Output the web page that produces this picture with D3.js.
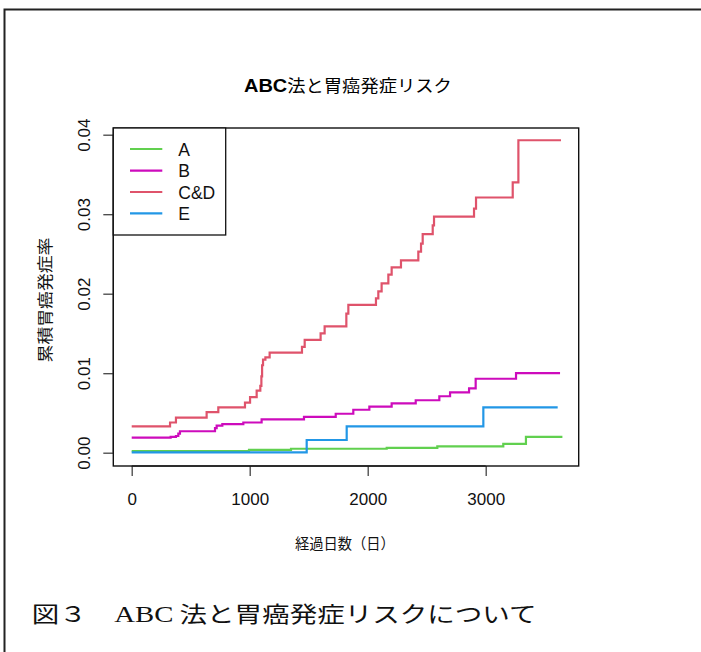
<!DOCTYPE html>
<html>
<head>
<meta charset="utf-8">
<script src="https://cdn.jsdelivr.net/npm/d3@7"></script>
<style>
  html, body { margin: 0; padding: 0; background: #fff; }
  svg { display: block; }
</style>
</head>
<body>
<script>
// ---------- data (step points: [day, cumulative incidence]) ----------
const seriesNames = ["A", "B", "C&D", "E"];
const seriesColors = ["#61D04F", "#CD0BBC", "#DF536B", "#2297E6"];

const stepsA = [[0,0.0002],[994,0.00035],[1350,0.0005],[2161,0.0006],[2590,0.0008],[3149,0.0011],[3341,0.0020],[3650,0.0020]];
const stepsB = [[0,0.0019],[330,0.0020],[375,0.0021],[395,0.0024],[409,0.0027],[706,0.0031],[720,0.0034],[768,0.0036],[946,0.0038],[1101,0.0042],[1460,0.0045],[1729,0.0049],[1878,0.0054],[2014,0.0058],[2203,0.0062],[2407,0.0066],[2607,0.0071],[2698,0.0076],[2859,0.0081],[2915,0.0093],[3257,0.0100],[3630,0.0100]];
const stepsCD = [[0,0.0033],[325,0.0038],[375,0.0044],[635,0.0051],[734,0.0057],[960,0.0063],[1003,0.0070],[1059,0.0078],[1090,0.0084],[1099,0.0096],[1105,0.0110],[1113,0.0117],[1133,0.0120],[1169,0.0126],[1443,0.0133],[1466,0.0142],[1601,0.0150],[1635,0.0159],[1819,0.0175],[1836,0.0186],[2070,0.0194],[2090,0.0203],[2118,0.0213],[2175,0.0224],[2203,0.0233],[2282,0.0242],[2429,0.0253],[2452,0.0263],[2466,0.0275],[2551,0.0286],[2562,0.0297],[2901,0.0307],[2918,0.0321],[3229,0.0340],[3277,0.0393],[3638,0.0393]];
const stepsE = [[0,0.00005],[1483,0.0016],[1822,0.0033],[2980,0.0057],[3610,0.0057]];

const xTicks = [0, 1000, 2000, 3000];
const yTicks = [0, 0.01, 0.02, 0.03, 0.04];

const chartTitle = "ABC法と胃癌発症リスク";
const xTitle = "経過日数（日）";
const yTitle = "累積胃癌発症率";
const caption = ["図３　", "ABC", " 法と胃癌発症リスクについて"];

// ---------- layout ----------
const W = 701, H = 652;
const box = {l: 113.3, r: 578.7, t: 128, b: 466};

const svg = d3.select("body").append("svg").attr("width", W).attr("height", H);
svg.append("rect").attr("width", W).attr("height", H).attr("fill", "#fff");

// outer frame (left & top visible, continues past right/bottom)
svg.append("path").attr("d", `M4.5,${H+5} L4.5,9.5 L${W+5},9.5`)
  .attr("fill", "none").attr("stroke", "#222").attr("stroke-width", 2);

const x = d3.scaleLinear().domain([0, 3000]).range([131.7, 485.7]);
const y = d3.scaleLinear().domain([0, 0.04]).range([452.7, 134.7]);

const sans = "'Liberation Sans', Arial, sans-serif";
const cjk = "'Noto Sans CJK JP', sans-serif";

function fit(sel, width) {
  const w = sel.node().getComputedTextLength();
  return width / w;
}

// ---------- axes ----------
const xAxis = svg.append("g").attr("transform", `translate(0,${box.b})`)
  .call(d3.axisBottom(x).tickValues(xTicks).tickSize(10).tickPadding(17).tickFormat(d3.format("d")));
xAxis.select(".domain").attr("stroke", "#444").attr("stroke-width", 1.3).attr("d", `M${x(0)},0H${x(3000)}`);
xAxis.selectAll(".tick line").attr("stroke", "#444").attr("stroke-width", 1.3);
xAxis.selectAll(".tick text").attr("font-family", sans).attr("font-size", 17).attr("fill", "#111");

const yAxis = svg.append("g").attr("transform", `translate(${box.l},0)`)
  .call(d3.axisLeft(y).tickValues(yTicks).tickSize(10).tickFormat(d3.format(".2f")));
yAxis.select(".domain").attr("stroke", "#444").attr("stroke-width", 1.3).attr("d", `M0,${y(0)}V${y(0.04)}`);
yAxis.selectAll(".tick line").attr("stroke", "#444").attr("stroke-width", 1.3);
yAxis.selectAll(".tick text")
  .attr("x", null).attr("dy", null)
  .attr("transform", "translate(-23,0) rotate(-90)")
  .attr("text-anchor", "middle")
  .attr("font-family", sans).attr("font-size", 17).attr("fill", "#111");

// ---------- series ----------
const line = d3.line().x(d => x(d[0])).y(d => y(d[1])).curve(d3.curveStepAfter);
const allSteps = [stepsA, stepsB, stepsCD, stepsE];
allSteps.forEach((s, i) => {
  svg.append("path").datum(s).attr("d", line)
    .attr("fill", "none").attr("stroke", seriesColors[i]).attr("stroke-width", 2.2);
});

// plot box
svg.append("rect").attr("x", box.l).attr("y", box.t)
  .attr("width", box.r - box.l).attr("height", box.b - box.t)
  .attr("fill", "none").attr("stroke", "#111").attr("stroke-width", 1.4);

// ---------- legend ----------
const leg = svg.append("g");
leg.append("rect").attr("x", box.l).attr("y", box.t).attr("width", 225.7 - box.l).attr("height", 235 - box.t)
  .attr("fill", "#fff").attr("stroke", "#111").attr("stroke-width", 1.3);
const legY = [149, 170.7, 192, 213.3];
seriesNames.forEach((n, i) => {
  leg.append("line").attr("x1", 130).attr("x2", 162.3).attr("y1", legY[i]).attr("y2", legY[i])
    .attr("stroke", seriesColors[i]).attr("stroke-width", 2.2);
  leg.append("text").attr("x", 178.3).attr("y", legY[i] + 6.5).text(n)
    .attr("font-family", sans).attr("font-size", 17.5).attr("fill", "#111");
});

// ---------- titles ----------
const t = svg.append("text").attr("y", 0).attr("x", 0).attr("fill", "#000");
t.append("tspan").text(chartTitle.slice(0, 3)).attr("font-family", sans).attr("font-weight", "bold").attr("font-size", 18);
t.append("tspan").text(chartTitle.slice(3)).attr("font-family", cjk).attr("font-size", 16.5);
t.attr("transform", `translate(244,91.5) scale(${fit(t, 208)},1)`);

const xt = svg.append("text").attr("x", 0).attr("y", 0).text(xTitle)
  .attr("font-family", cjk).attr("font-size", 15).attr("fill", "#111");
xt.attr("transform", `translate(295,549) scale(${fit(xt, 100)},1)`);

const yt = svg.append("text").attr("x", 0).attr("y", 0).text(yTitle)
  .attr("font-family", cjk).attr("font-size", 16).attr("fill", "#111").attr("text-anchor", "middle");
yt.attr("transform", `translate(51,300) rotate(-90) scale(${fit(yt, 125)},1)`);

// ---------- caption ----------
const cap = svg.append("text").attr("x", 0).attr("y", 0).attr("fill", "#111");
cap.append("tspan").text(caption[0]).attr("font-family", cjk).attr("font-size", 22);
cap.append("tspan").text(caption[1]).attr("font-family", "'Liberation Serif', 'Times New Roman', serif").attr("font-size", 23);
cap.append("tspan").text(caption[2]).attr("font-family", cjk).attr("font-size", 22);
cap.attr("transform", `translate(31.7,622) scale(${fit(cap, 505)},1)`);
</script>
</body>
</html>
